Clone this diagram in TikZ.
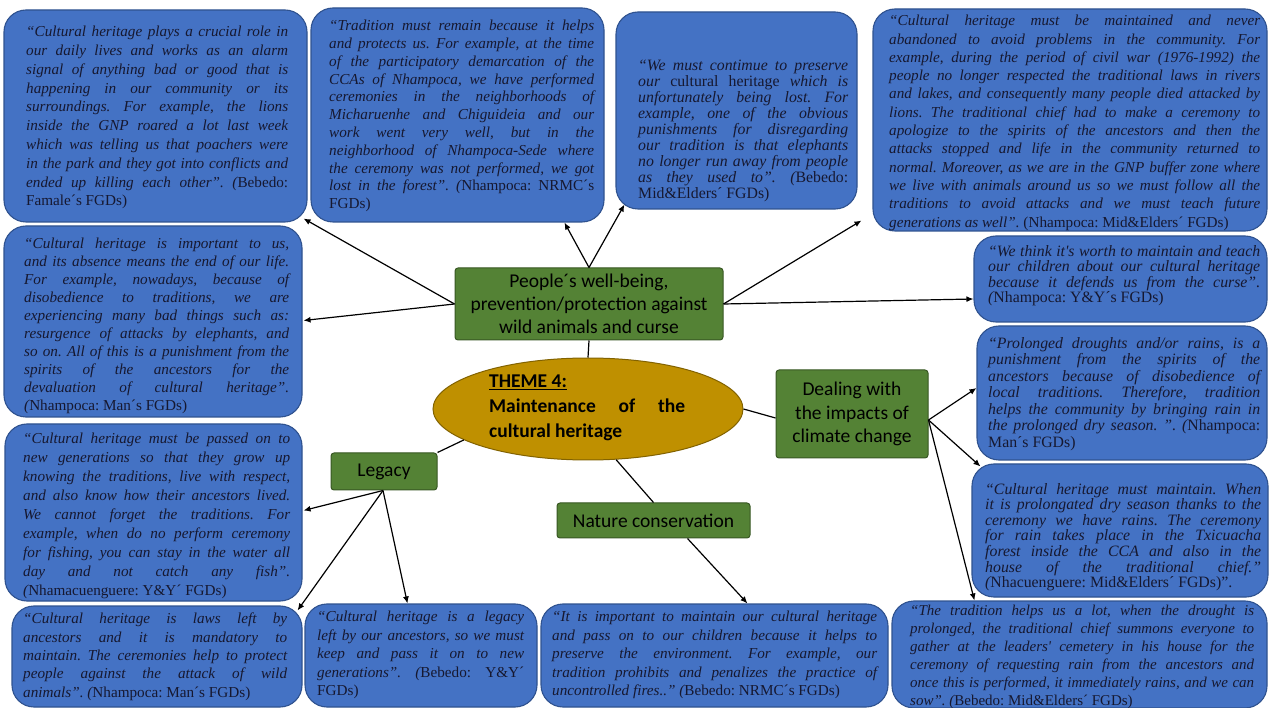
\documentclass[tikz,border=0pt]{standalone}
\usepackage{fontspec}
\setmainfont{Liberation Serif}
\newfontfamily\gf{Carlito}
\usetikzlibrary{calc,shapes.geometric,arrows.meta}
\definecolor{boxblue}{RGB}{68,114,196}
\definecolor{boxedge}{RGB}{47,82,143}
\definecolor{qtext}{RGB}{22,24,48}
\definecolor{leaf}{RGB}{84,130,53}
\definecolor{leafedge}{RGB}{56,87,35}
\definecolor{gold}{RGB}{191,144,0}
\definecolor{goldedge}{RGB}{130,98,0}
\tolerance=10000
\hyphenpenalty=10000
\exhyphenpenalty=10000
\hbadness=10000
\hfuzz=20pt
\frenchspacing
\tikzset{
  qboxsty/.style={draw=boxedge, fill=boxblue, line width=1.1pt, rounded corners=22pt, inner sep=0pt},
  qtextsty/.style={inner sep=0pt, align=justify, text=qtext, anchor=north west},
  leafsty/.style={draw=leafedge, fill=leaf, line width=1pt, rounded corners=3pt, inner sep=0pt,
    align=center, text=black, font=\gf\fontsize{19.5pt}{23pt}\selectfont},
  arr/.style={draw=black, line width=1.2pt, -{Latex[length=7pt,width=6pt]}},
  link/.style={draw=black, line width=1.2pt},
}
\newcommand\qbox[5]{%
  \pgfmathsetmacro\qw{#4-#2}%
  \pgfmathsetmacro\qh{#5-#3}%
  \pgfmathsetmacro\qx{(#2+#4)/2}%
  \pgfmathsetmacro\qy{(#3+#5)/2}%
  \node[qboxsty, minimum width=\qw pt, minimum height=\qh pt] (#1) at (\qx,\qy) {};}
\newcommand\qtext[7]{%
  \node[qtextsty, text width=#4pt, font=\rmfamily\fontsize{#5pt}{#6pt}\selectfont\itshape\frenchspacing] (#1) at (#2,#3) {#7};}
\begin{document}
\begin{tikzpicture}[x=1pt,y=-1pt]
\fill[white] (0,0) rectangle (1270,708);
\useasboundingbox (0,0) rectangle (1270,708);

% ---------- quote boxes ----------
\qbox{b1}{4}{10}{307}{222}
\qbox{b2}{311}{8}{604}{222}
\qbox{b3}{616}{12}{857}{209}
\qbox{b4}{873}{9}{1267}{231}
\qbox{b5}{4}{226}{302}{417}
\qbox{b6}{974}{236}{1267}{322}
\qbox{b7}{977}{326}{1267}{460}
\qbox{b9}{972}{464}{1268}{597}
\qbox{b8}{5}{424}{302}{601}
\qbox{b10}{12}{606}{302}{707}
\qbox{b11}{305}{604}{537}{707}
\qbox{b12}{541}{604}{888}{707}
\qbox{b13}{892}{601}{1267}{708}

\qtext{t1}{26}{26}{262}{15.2}{18.8}{“Cultural heritage plays a crucial role in\linebreak
our daily lives and works as an alarm\linebreak
signal of anything bad or good that is\linebreak
happening in our community or its\linebreak
surroundings. For example, the lions\linebreak
inside the GNP roared a lot last week\linebreak
which was telling us that poachers were\linebreak
in the park and they got into conflicts and\linebreak
ended up killing each other”. (\upshape Bebedo:\linebreak
Famale´s FGDs)}

\qtext{t2}{329}{20}{265}{15.2}{17.8}{“Tradition must remain because it helps\linebreak
and protects us. For example, at the time\linebreak
of the participatory demarcation of the\linebreak
CCAs of Nhampoca, we have performed\linebreak
ceremonies in the neighborhoods of\linebreak
Micharuenhe and Chiguideia and our\linebreak
work went very well, but in the\linebreak
neighborhood of Nhampoca-Sede where\linebreak
the ceremony was not performed, we got\linebreak
lost in the forest”. (\upshape Nhampoca: NRMC´s\linebreak
FGDs)}

\qtext{t3}{638}{60}{210}{15.8}{16}{“We must contimue to preserve\linebreak
our {\upshape cultural heritage} which is\linebreak
unfortunately being lost. For\linebreak
example, one of the obvious\linebreak
punishments for disregarding\linebreak
our tradition is that elephants\linebreak
no longer run away from people\linebreak
as they used to”. (\upshape Bebedo:\linebreak
Mid\&Elders´ FGDs)}

\qtext{t4}{889}{15}{371}{15.2}{18.3}{“Cultural heritage must be maintained and never\linebreak
abandoned to avoid problems in the community. For\linebreak
example, during the period of civil war (1976-1992) the\linebreak
people no longer respected the traditional laws in rivers\linebreak
and lakes, and consequently many people died attacked by\linebreak
lions. The traditional chief had to make a ceremony to\linebreak
apologize to the spirits of the ancestors and then the\linebreak
attacks stopped and life in the community returned to\linebreak
normal. Moreover, as we are in the GNP buffer zone where\linebreak
we live with animals around us so we must follow all the\linebreak
traditions to avoid attacks and we must teach future\linebreak
generations as well”. {\upshape (Nhampoca: Mid\&Elders´ FGDs)}}

\qtext{t5}{24}{238}{265}{15.2}{18}{“Cultural heritage is important to us,\linebreak
and its absence means the end of our life.\linebreak
For example, nowadays, because of\linebreak
disobedience to traditions, we are\linebreak
experiencing many bad things such as:\linebreak
resurgence of attacks by elephants, and\linebreak
so on. All of this is a punishment from the\linebreak
spirits of the ancestors for the\linebreak
devaluation of cultural heritage”.\linebreak
(\upshape Nhampoca: Man´s FGDs)}

\qtext{t6}{988}{245}{272}{15.8}{15.6}{“We think it\textquotesingle s worth to maintain and teach\linebreak
our children about our cultural heritage\linebreak
because it defends us from the curse”.\linebreak
(\upshape Nhampoca: Y\&Y´s FGDs)}

\qtext{t7}{988}{337}{272}{15.8}{16.5}{“Prolonged droughts and/or rains, is a\linebreak
punishment from the spirits of the\linebreak
ancestors because of disobedience of\linebreak
local traditions. Therefore, tradition\linebreak
helps the community by bringing rain in\linebreak
the prolonged dry season. ”. (\upshape Nhampoca:\linebreak
Man´s FGDs)}

\qtext{t9}{985}{483}{276}{15.8}{15.6}{“Cultural heritage must maintain. When\linebreak
it is prolongated dry season thanks to the\linebreak
ceremony we have rains. The ceremony\linebreak
for rain takes place in the Txicuacha\linebreak
forest inside the CCA and also in the\linebreak
house of the traditional chief.”\linebreak
(\upshape Nhacuenguere: Mid\&Elders´ FGDs)”.}

\qtext{t8}{23}{433}{267}{15.2}{19}{“Cultural heritage must be passed on to\linebreak
new generations so that they grow up\linebreak
knowing the traditions, live with respect,\linebreak
and also know how their ancestors lived.\linebreak
We cannot forget the traditions. For\linebreak
example, when do no perform ceremony\linebreak
for fishing, you can stay in the water all\linebreak
day and not catch any fish”.\linebreak
(\upshape Nhamacuenguere: Y\&Y´ FGDs)}

\qtext{t10}{23}{613}{264}{15.2}{18.3}{“Cultural heritage is laws left by\linebreak
ancestors and it is mandatory to\linebreak
maintain. The ceremonies help to protect\linebreak
people against the attack of wild\linebreak
animals”. (\upshape Nhampoca: Man´s FGDs)}

\qtext{t11}{317}{611}{207}{15.2}{18.5}{“Cultural heritage is a legacy\linebreak
left by our ancestors, so we must\linebreak
keep and pass it on to new\linebreak
generations”. (\upshape Bebedo: Y\&Y´\linebreak
FGDs)}

\qtext{t12}{552}{611}{325}{15.2}{18.5}{“It is important to maintain our cultural heritage\linebreak
and pass on to our children because it helps to\linebreak
preserve the environment. For example, our\linebreak
tradition prohibits and penalizes the practice of\linebreak
uncontrolled fires..” (\upshape Bebedo: NRMC´s FGDs)}

\qtext{t13}{910}{605}{344}{15}{18}{“The tradition helps us a lot, when the drought is\linebreak
prolonged, the traditional chief summons everyone to\linebreak
gather at the leaders\textquotesingle\ cemetery in his house for the\linebreak
ceremony of requesting rain from the ancestors and\linebreak
once this is performed, it immediately rains, and we can\linebreak
sow”. (\upshape Bebedo: Mid\&Elders´ FGDs)}

% ---------- central nodes ----------
\node[ellipse, draw=goldedge, fill=gold, line width=1pt, minimum width=310pt, minimum height=102pt, inner sep=0pt] (ell) at (588,409) {};
\node[inner sep=0pt, text width=196pt, align=justify, anchor=north west, text=black,
  font=\gf\bfseries\fontsize{19.5pt}{25pt}\selectfont] (elltext) at (489,375)
  {\underline{THEME 4:}\\Maintenance of the\linebreak cultural heritage};

\node[leafsty, minimum width=268pt, minimum height=72pt] (peo) at (589,304)
  {People´s well-being,\\prevention/protection against\\wild animals and curse};
\node[leafsty, minimum width=152pt, minimum height=88pt, font=\gf\fontsize{19.5pt}{23.5pt}\selectfont] (dl) at (852,414)
  {Dealing with\\the impacts of\\climate change};
\node[leafsty, minimum width=106pt, minimum height=37pt] (leg) at (384,471.5) {Legacy};
\node[leafsty, minimum width=193pt, minimum height=35pt] (nc) at (653.5,520.5) {Nature conservation};

% ---------- connectors ----------
\draw[link] (peo.south) -- (ell.north);
\draw[link] (ell.194) -- (leg.north east);
\draw[link] (ell.-61) -- (nc.north);
\draw[link] (ell.east) -- ($(dl.west)+(0,4)$);

\draw[arr] (peo.west) -- ($(b1.south east)+(-4,-4)$);
\draw[arr] (peo.west) -- ($(b5.east)+(1,-1)$);
\draw[arr] (peo.north) -- ($(b2.south west)+(254,0)$);
\draw[arr] (peo.north) -- ($(b3.south west)+(9,-5)$);
\draw[arr] (peo.east) -- ($(b4.south west)+(-11,-11)$);
\draw[arr] (peo.east) -- ($(b6.west)+(0,20)$);

\draw[arr] ($(dl.east)+(0,6)$) -- ($(b7.west)+(0,-5)$);
\draw[arr] ($(dl.east)+(0,6)$) -- ($(b9.north west)+(9,3)$);
\draw[arr] ($(dl.east)+(0,6)$) -- ($(b13.north west)+(83,0)$);

\draw[arr] ($(leg.south)+(-1,0)$) -- ($(b8.east)+(1,-2)$);
\draw[arr] ($(leg.south)+(-1,0)$) -- ($(b10.north east)+(-5,5)$);
\draw[arr] ($(leg.south)+(-1,0)$) -- ($(b11.north west)+(103,0)$);

\draw[arr] ($(nc.south)+(34,0)$) -- ($(b12.north west)+(207,0)$);
\end{tikzpicture}
\end{document}
